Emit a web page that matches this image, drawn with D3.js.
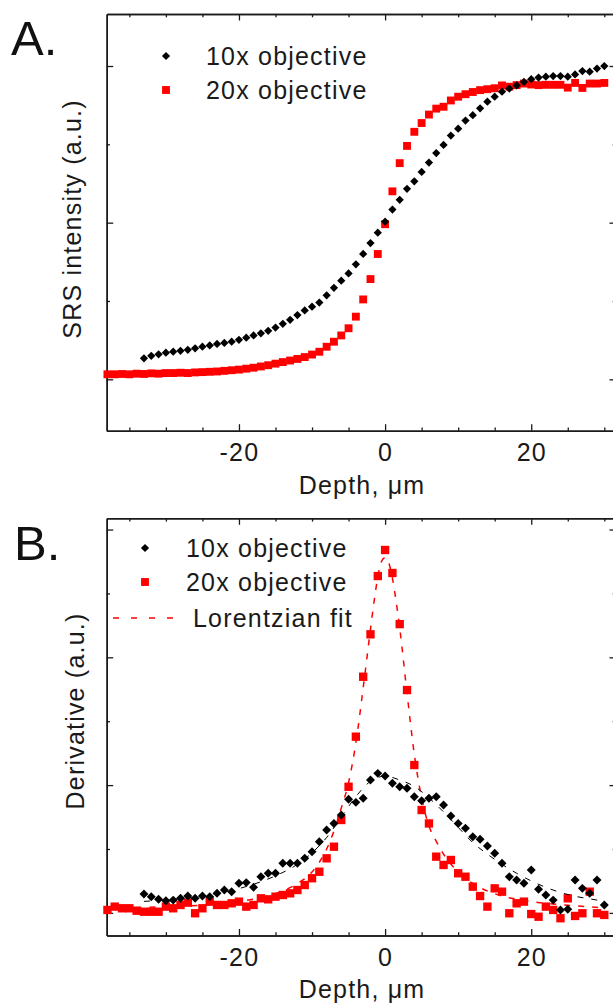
<!DOCTYPE html>
<html><head><meta charset="utf-8">
<script src="https://cdn.jsdelivr.net/npm/d3@7"></script>
<style>
body{margin:0;background:#fff;}
text{font-family:"Liberation Sans",Arial,Helvetica,sans-serif;}
</style></head>
<body>
<svg id="chart" width="613" height="1003"></svg>
<script>
// ---------- data ----------
const depth10x = [-33,-32,-31,-30,-29,-28,-27,-26,-25,-24,-23,-22,-21,-20,-19,-18,-17,-16,-15,-14,-13,-12,-11,-10,-9,-8,-7,-6,-5,-4,-3,-2,-1,0,1,2,3,4,5,6,7,8,9,10,11,12,13,14,15,16,17,18,19,20,21,22,23,24,25,26,27,28,29,30];
const depth20x = [-38,-37,-36,-35,-34,-33,-32,-31,-30,-29,-28,-27,-26,-25,-24,-23,-22,-21,-20,-19,-18,-17,-16,-15,-14,-13,-12,-11,-10,-9,-8,-7,-6,-5,-4,-3,-2,-1,0,1,2,3,4,5,6,7,8,9,10,11,12,13,14,15,16,17,18,19,20,21,22,23,24,25,26,27,28,29,30];

// Panel A: SRS intensity (a.u.)
const srs10x = [0.067,0.075,0.080,0.085,0.088,0.091,0.094,0.099,0.104,0.108,
  0.113,0.116,0.120,0.126,0.133,0.140,0.147,0.155,0.165,0.177,
  0.190,0.205,0.220,0.232,0.245,0.268,0.292,0.315,0.338,0.367,
  0.400,0.435,0.468,0.503,0.542,0.573,0.608,0.632,0.662,0.692,
  0.722,0.748,0.778,0.800,0.826,0.843,0.865,0.886,0.902,0.918,
  0.928,0.938,0.949,0.958,0.963,0.966,0.968,0.968,0.966,0.973,
  0.984,0.982,0.992,1.000];
const srs20x = [0.016,0.016,0.017,0.016,0.018,0.017,0.019,0.018,0.020,0.020,
  0.021,0.020,0.022,0.023,0.024,0.025,0.027,0.029,0.031,0.034,
  0.037,0.041,0.045,0.050,0.055,0.060,0.065,0.071,0.079,0.088,
  0.104,0.120,0.140,0.163,0.200,0.255,0.320,0.400,0.495,0.600,
  0.690,0.745,0.790,0.818,0.845,0.864,0.870,0.890,0.902,0.910,
  0.917,0.923,0.926,0.929,0.938,0.934,0.939,0.944,0.941,0.939,
  0.940,0.940,0.940,0.931,0.946,0.930,0.944,0.944,0.946];

// Panel B: Derivative (a.u.)
const deriv10x = [0.148,0.127,0.106,0.095,0.100,0.114,0.132,0.114,0.132,0.127,
  0.153,0.179,0.166,0.232,0.237,0.200,0.283,0.310,0.310,0.388,
  0.388,0.388,0.427,0.479,0.557,0.649,0.700,0.766,0.889,0.865,
  0.897,1.040,1.092,1.071,1.014,0.987,0.975,0.909,0.878,0.897,
  0.909,0.844,0.758,0.700,0.662,0.596,0.576,0.523,0.466,0.388,
  0.283,0.257,0.232,0.336,0.185,0.140,0.100,0.023,0.028,0.257,
  0.192,0.153,0.257,0.062];
const deriv20x = [0.023,0.049,0.036,0.036,0.017,0.009,0.009,0.009,0.049,0.036,
  0.062,0.080,-0.003,0.036,0.088,0.062,0.062,0.075,0.088,0.049,
  0.062,0.114,0.106,0.127,0.140,0.153,0.179,0.218,0.271,0.322,
  0.427,0.518,0.727,0.987,1.379,1.848,2.180,2.636,2.840,2.660,
  2.260,1.744,1.157,0.805,0.700,0.440,0.375,0.414,0.310,0.283,
  0.205,0.132,0.049,0.192,0.166,-0.003,0.075,0.088,-0.009,-0.030,
  0.049,0.023,-0.042,0.114,-0.024,-0.003,0.166,-0.003,-0.016];

// Lorentzian fits
const fitDepth20x = [-38,-30,-25,-20,-15,-12,-10,-8,-7,-6,-5,-4,-3,-2,-1.5,-1,-0.5,0,0.5,1,1.5,2,3,4,5,6,7,8,10,12,15,20,25,30];
const fitValue20x = [0.03,0.05,0.06,0.09,0.15,0.23,0.32,0.50,0.64,0.82,1.02,1.33,1.76,2.22,2.44,2.63,2.75,2.78,2.74,2.62,2.44,2.23,1.72,1.24,0.90,0.68,0.56,0.46,0.32,0.23,0.15,0.09,0.06,0.04];
const fitDepth10x = [-33,-30,-25,-20,-15,-12,-10,-8,-6,-4,-2,0,2,4,6,8,10,12,14,16,18,20,22,24,26,28,30];
const fitValue10x = [0.09,0.10,0.13,0.19,0.29,0.38,0.47,0.59,0.75,0.91,1.03,1.07,1.04,0.99,0.90,0.79,0.67,0.55,0.46,0.38,0.31,0.25,0.20,0.16,0.13,0.11,0.09];

const xMajorTicks = [-20, 0, 20];
const xMinorTicks = [-35,-30,-25,-15,-10,-5,5,10,15,25,30];
const yMajorTicksA = [0, 0.5, 1];
const yMinorTicksA = [0.25, 0.75];
const yMajorTicksB = [0, 1, 2, 3];
const yMinorTicksB = [0.5, 1.5, 2.5];

const labels10x = "10x objective";
const labels20x = "20x objective";
const labelFit = "Lorentzian fit";
const xTitle = "Depth, \u03bcm";

// ---------- drawing ----------
const svg = d3.select("#chart");
const FONT = 25, LS = 1.2;
const RED = "#ff0000", BLACK = "#000000", AX = "#1a1a1a";

function panel(cfg) {
  const x = d3.scaleLinear().domain([-38.1, 31.6]).range([106.7, 616]);
  const y = d3.scaleLinear().domain(cfg.yDomain).range([cfg.bottom, cfg.top]);
  const g = svg.append("g");

  function styleAxis(sel) {
    sel.select(".domain").attr("stroke", AX).attr("stroke-width", 1.5);
    sel.selectAll(".tick line").attr("stroke", AX).attr("stroke-width", 1.3);
  }
  // bottom
  g.append("g").attr("transform", `translate(0,${cfg.bottom})`)
    .call(d3.axisBottom(x).tickValues(xMajorTicks).tickSizeInner(-6.5).tickSizeOuter(0).tickPadding(13).tickFormat(d => d))
    .call(styleAxis)
    .call(s => s.selectAll("text").attr("font-size", FONT).attr("fill", AX)
      .attr("font-family", '"Liberation Sans",Arial,sans-serif').style("letter-spacing", LS + "px"));
  g.append("g").attr("transform", `translate(0,${cfg.bottom})`)
    .call(d3.axisBottom(x).tickValues(xMinorTicks).tickSizeInner(-3.3).tickSizeOuter(0).tickFormat(""))
    .call(styleAxis);
  // top
  g.append("g").attr("transform", `translate(0,${cfg.top})`)
    .call(d3.axisTop(x).tickValues(xMajorTicks).tickSizeInner(-6.5).tickSizeOuter(0).tickFormat(""))
    .call(styleAxis);
  g.append("g").attr("transform", `translate(0,${cfg.top})`)
    .call(d3.axisTop(x).tickValues(xMinorTicks).tickSizeInner(-3.3).tickSizeOuter(0).tickFormat(""))
    .call(styleAxis);
  // left
  g.append("g").attr("transform", `translate(${x.range()[0]},0)`)
    .call(d3.axisLeft(y).tickValues(cfg.yMajor).tickSizeInner(-6.5).tickSizeOuter(0).tickFormat(""))
    .call(styleAxis);
  g.append("g").attr("transform", `translate(${x.range()[0]},0)`)
    .call(d3.axisLeft(y).tickValues(cfg.yMinor).tickSizeInner(-3.3).tickSizeOuter(0).tickFormat(""))
    .call(styleAxis);
  // right
  g.append("g").attr("transform", `translate(${x.range()[1]},0)`)
    .call(d3.axisRight(y).tickValues(cfg.yMajor).tickSizeInner(-6.5).tickSizeOuter(0).tickFormat(""))
    .call(styleAxis);
  g.append("g").attr("transform", `translate(${x.range()[1]},0)`)
    .call(d3.axisRight(y).tickValues(cfg.yMinor).tickSizeInner(-3.3).tickSizeOuter(0).tickFormat(""))
    .call(styleAxis);

  const plot = g.append("g");
  const sq = d3.symbol().type(d3.symbolSquare);

  // red squares (20x)
  plot.selectAll(".r").data(cfg.red).join("path")
    .attr("d", sq.size(cfg.sqSize)())
    .attr("transform", d => `translate(${x(d[0])},${y(d[1])})`)
    .attr("fill", RED);

  const line = d3.line().x(d => x(d[0])).y(d => y(d[1])).curve(d3.curveMonotoneX);
  if (cfg.fitRed) {
    plot.append("path").datum(cfg.fitRed).attr("d", line)
      .attr("fill", "none").attr("stroke", RED).attr("stroke-width", 1.5).attr("stroke-dasharray", "6,8");
  }
  // black diamonds (10x)
  plot.selectAll(".b").data(cfg.black).join("path")
    .attr("d", sq.size(cfg.dmSize)())
    .attr("transform", d => `translate(${x(d[0])},${y(d[1])}) rotate(45)`)
    .attr("fill", BLACK);
  if (cfg.fitBlack) {
    plot.append("path").datum(cfg.fitBlack).attr("d", line)
      .attr("fill", "none").attr("stroke", BLACK).attr("stroke-width", 1).attr("stroke-dasharray", "6,8");
  }

  // panel letter
  svg.append("text").attr("x", cfg.letterX).attr("y", cfg.letterY)
    .attr("font-size", 49).attr("fill", "#111").text(cfg.letter);

  // y title
  svg.append("text")
    .attr("transform", `translate(${cfg.yTitleX},${cfg.yTitleY}) rotate(-90)`)
    .attr("text-anchor", "middle").attr("font-size", FONT).attr("fill", AX)
    .style("letter-spacing", LS + "px").text(cfg.yTitle);
  // x title
  svg.append("text").attr("x", 362).attr("y", cfg.xTitleY)
    .attr("text-anchor", "middle").attr("font-size", FONT).attr("fill", AX)
    .style("letter-spacing", LS + "px").text(xTitle);

  // legend
  const L = cfg.legend;
  svg.append("path").attr("d", sq.size(34)())
    .attr("transform", `translate(${L.mx},${L.rows[0]}) rotate(45)`).attr("fill", BLACK);
  svg.append("path").attr("d", sq.size(62)())
    .attr("transform", `translate(${L.mx},${L.rows[1]})`).attr("fill", RED);
  svg.append("text").attr("x", L.tx).attr("y", L.rows[0] + 9).attr("font-size", FONT)
    .attr("fill", AX).style("letter-spacing", LS + "px").text(labels10x);
  svg.append("text").attr("x", L.tx).attr("y", L.rows[1] + 9).attr("font-size", FONT)
    .attr("fill", AX).style("letter-spacing", LS + "px").text(labels20x);
  if (L.rows.length > 2) {
    svg.append("line").attr("x1", 113).attr("x2", 176).attr("y1", L.rows[2]).attr("y2", L.rows[2])
      .attr("stroke", RED).attr("stroke-width", 1.5).attr("stroke-dasharray", "6,12");
    svg.append("text").attr("x", L.tx3).attr("y", L.rows[2] + 9).attr("font-size", FONT)
      .attr("fill", AX).style("letter-spacing", LS + "px").text(labelFit);
  }
}

panel({
  top: 14, bottom: 430.7, yDomain: [-0.164, 1.166],
  yMajor: yMajorTicksA, yMinor: yMinorTicksA,
  red: depth20x.map((d, i) => [d, srs20x[i]]),
  black: depth10x.map((d, i) => [d, srs10x[i]]),
  sqSize: 62, dmSize: 34,
  letter: "A.", letterX: 11, letterY: 55,
  yTitle: "SRS intensity (a.u.)", yTitleX: 81, yTitleY: 219,
  xTitleY: 494,
  legend: { mx: 166, tx: 206, rows: [56, 90] }
});

panel({
  top: 518.3, bottom: 935.5, yDomain: [-0.177, 3.088],
  yMajor: yMajorTicksB, yMinor: yMinorTicksB,
  red: depth20x.map((d, i) => [d, deriv20x[i]]),
  black: depth10x.map((d, i) => [d, deriv10x[i]]),
  fitRed: fitDepth20x.map((d, i) => [d, fitValue20x[i]]),
  fitBlack: fitDepth10x.map((d, i) => [d, fitValue10x[i]]),
  sqSize: 70, dmSize: 40,
  letter: "B.", letterX: 14, letterY: 560,
  yTitle: "Derivative (a.u.)", yTitleX: 84, yTitleY: 711,
  xTitleY: 998,
  legend: { mx: 145, tx: 186, tx3: 193, rows: [548, 582, 618] }
});
</script>
</body></html>
